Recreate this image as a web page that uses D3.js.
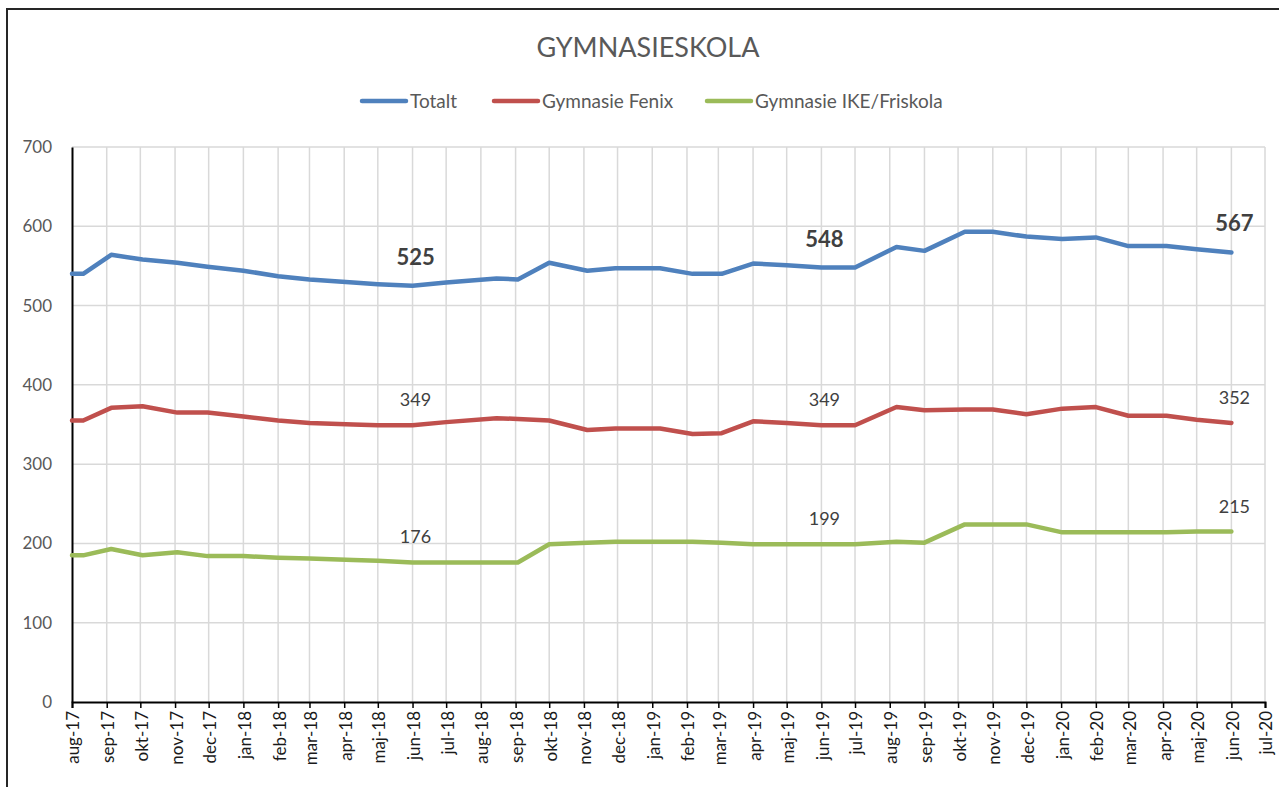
<!DOCTYPE html>
<html>
<head>
<meta charset="utf-8">
<script src="https://cdn.jsdelivr.net/npm/d3@7"></script>
<style>
  body { margin: 0; background: #fff; }
  svg { display: block; font-family: Lato, "Open Sans", sans-serif; }
</style>
</head>
<body>
<svg width="1279" height="787"></svg>
<script>
// ---- Data (mätdatum och antal elever)
const dates = [
  '2017-08-01', '2017-08-11', '2017-09-05', '2017-10-03', '2017-11-03', '2017-11-30',
  '2018-01-01', '2018-02-01', '2018-03-01', '2018-04-09', '2018-05-01', '2018-06-01',
  '2018-07-01', '2018-08-15', '2018-09-03', '2018-10-01', '2018-11-04', '2018-11-29',
  '2019-01-08', '2019-02-06', '2019-03-04', '2019-04-01', '2019-05-01', '2019-06-01',
  '2019-07-01', '2019-08-07', '2019-09-01', '2019-10-07', '2019-11-01', '2019-12-01',
  '2020-01-02', '2020-02-01', '2020-03-01', '2020-04-04', '2020-05-01', '2020-06-01'
];
const totalt = [
  540, 540, 564, 558, 554, 549, 544, 537, 533, 529, 527, 525,
  529, 534, 533, 554, 544, 547, 547, 540, 540, 553, 551, 548,
  548, 574, 569, 593, 593, 587, 584, 586, 575, 575, 571, 567
];
const fenix = [
  355, 355, 371, 373, 365, 365, 360, 355, 352, 350, 349, 349,
  353, 358, 357, 355, 343, 345, 345, 338, 339, 354, 352, 349,
  349, 372, 368, 369, 369, 363, 370, 372, 361, 361, 356, 352
];
const ikeFriskola = [
  185, 185, 193, 185, 189, 184, 184, 182, 181, 179, 178, 176,
  176, 176, 176, 199, 201, 202, 202, 202, 201, 199, 199, 199,
  199, 202, 201, 224, 224, 224, 214, 214, 214, 214, 215, 215
];
const seriesNames = ['Totalt', 'Gymnasie Fenix', 'Gymnasie IKE/Friskola'];
const seriesColors = ['#4f81bd', '#c0504d', '#9bbb59'];
const labelIndex = [11, 23, 35]; // jun-18, jun-19, jun-20
const monthNames = ['jan', 'feb', 'mar', 'apr', 'maj', 'jun', 'jul', 'aug', 'sep', 'okt', 'nov', 'dec'];
const yTicks = [0, 100, 200, 300, 400, 500, 600, 700];

const parse = d3.timeParse('%Y-%m-%d');
const series = [totalt, fenix, ikeFriskola].map((vals, i) => ({
  name: seriesNames[i],
  color: seriesColors[i],
  bold: i === 0,
  values: vals.map((v, j) => ({ date: parse(dates[j]), value: v }))
}));

const svg = d3.select('svg');
const margins = { left: 72, right: 14, top: 147, bottom: 85 };
const width = 1279, height = 787;

// ramen runt diagrammet
svg.append('rect')
  .attr('x', 7).attr('y', 9)
  .attr('width', 1400).attr('height', 900)
  .attr('fill', 'none')
  .attr('stroke', '#262626')
  .attr('stroke-width', 2);

// ---- Skalor
const mapX = d3.scaleTime()
  .domain([new Date(2017, 7, 1), new Date(2020, 6, 1)])
  .range([margins.left, width - margins.right]);

const mapY = d3.scaleLinear()
  .domain([0, 700])
  .range([height - margins.bottom, margins.top]);

const months = d3.timeMonth.range(new Date(2017, 7, 1), new Date(2020, 6, 2));

// ---- Rutnät
svg.append('g').attr('id', 'gridY')
  .selectAll('line').data(yTicks.filter(d => d > 0)).join('line')
  .attr('x1', mapX.range()[0]).attr('x2', mapX.range()[1])
  .attr('y1', d => mapY(d)).attr('y2', d => mapY(d))
  .attr('stroke', '#d9d9d9').attr('stroke-width', 1.5);

svg.append('g').attr('id', 'gridX')
  .selectAll('line').data(months.slice(1)).join('line')
  .attr('x1', d => mapX(d)).attr('x2', d => mapX(d))
  .attr('y1', mapY(700)).attr('y2', mapY(0))
  .attr('stroke', '#d9d9d9').attr('stroke-width', 1.5);

// ---- Axlar
const xAxis = d3.axisBottom(mapX)
  .tickValues(months)
  .tickSize(6)
  .tickFormat(d => `${monthNames[d.getMonth()]}-${String(d.getFullYear()).slice(2)}`);

const gx = svg.append('g')
  .attr('id', 'axisX')
  .attr('transform', `translate(0, ${mapY(0)})`)
  .call(xAxis);
gx.select('.domain').attr('stroke', '#000').attr('stroke-width', 2);
gx.selectAll('.tick line').attr('stroke', '#000').attr('stroke-width', 1.5);
gx.selectAll('.tick text')
  .attr('transform', 'rotate(-90)')
  .attr('x', -9)
  .attr('y', 1)
  .attr('dy', '0.35em')
  .style('text-anchor', 'end')
  .style('font-size', '17px')
  .style('font-family', 'Lato, sans-serif')
  .attr('fill', '#1a1a1a');

const yAxis = d3.axisLeft(mapY).tickValues(yTicks).tickSize(0).tickPadding(20);
const gy = svg.append('g')
  .attr('id', 'axisY')
  .attr('transform', `translate(${margins.left}, 0)`)
  .call(yAxis);
gy.select('.domain').attr('stroke', '#000').attr('stroke-width', 2);
gy.selectAll('.tick text')
  .style('font-size', '17px')
  .style('font-family', 'Lato, sans-serif')
  .attr('fill', '#595959');

// ---- Linjer
const line = d3.line()
  .x(d => mapX(d.date))
  .y(d => mapY(d.value));

svg.append('g').attr('id', 'group')
  .selectAll('path').data(series).join('path')
  .attr('d', d => line(d.values))
  .attr('fill', 'none')
  .attr('stroke', d => d.color)
  .attr('stroke-width', 4.5)
  .attr('stroke-linejoin', 'round')
  .attr('stroke-linecap', 'round');

// ---- Dataetiketter
const labels = [];
series.forEach(s => labelIndex.forEach(i => labels.push({ s, p: s.values[i] })));

svg.append('g').attr('id', 'labels')
  .selectAll('text').data(labels).join('text')
  .attr('x', d => mapX(d.p.date) + 3)
  .attr('y', d => mapY(d.p.value) - (d.s.bold ? 21 : 19))
  .style('text-anchor', 'middle')
  .style('font-size', d => d.s.bold ? '22px' : '18px')
  .style('font-weight', d => d.s.bold ? 'bold' : 'normal')
  .attr('fill', '#404040')
  .text(d => d.p.value);

// ---- Titel
svg.append('text')
  .attr('x', 648)
  .attr('y', 57)
  .style('text-anchor', 'middle')
  .style('font-size', '27px')
  .attr('fill', '#595959')
  .text('GYMNASIESKOLA');

// ---- Legend
const legendX = [362, 494, 707];
const legend = svg.append('g').attr('id', 'legend')
  .selectAll('g').data(series).join('g')
  .attr('transform', (d, i) => `translate(${legendX[i]}, 101)`);

legend.append('line')
  .attr('x1', 0).attr('x2', 44)
  .attr('stroke', d => d.color)
  .attr('stroke-width', 4.5)
  .attr('stroke-linecap', 'round');

legend.append('text')
  .attr('x', 48)
  .attr('dy', '0.35em')
  .style('font-size', '19px')
  .attr('fill', '#595959')
  .text(d => d.name);
</script>
</body>
</html>
